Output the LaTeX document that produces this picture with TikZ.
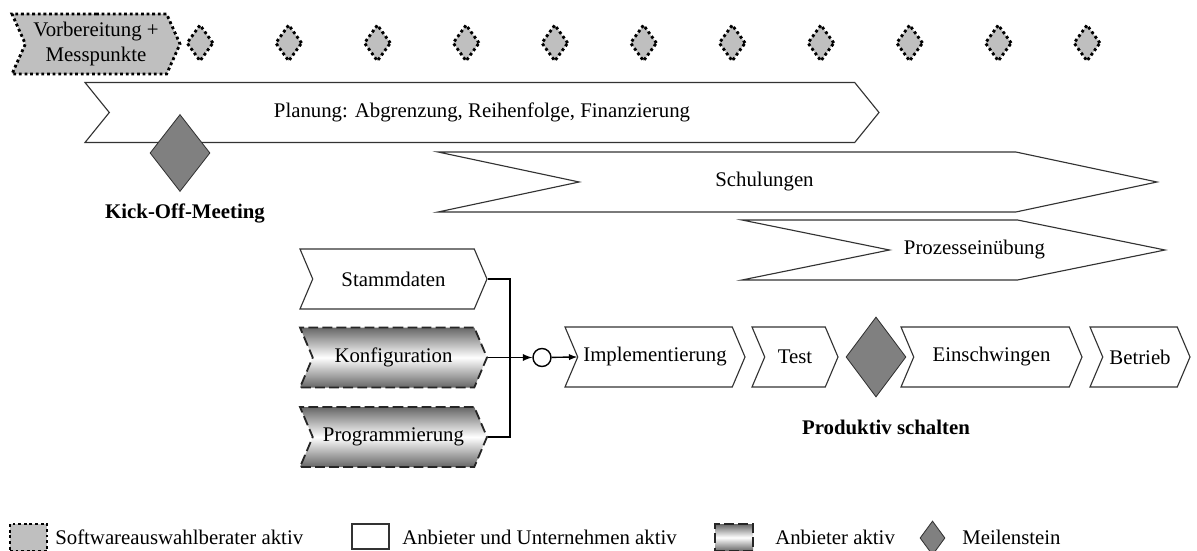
\documentclass[tikz,border=0pt]{standalone}
\usepackage{fontspec}
\setmainfont{Liberation Serif}
\usetikzlibrary{shapes.symbols,shapes.geometric}

\newcommand{\pxu}{0.025cm}

\begin{document}
\fontsize{14.8}{17.8}\selectfont
\begin{tikzpicture}[
  x=0.025cm, y=-0.025cm,
  pfeil/.style={
    signal,
    signal to=east,
    signal from=west,
    inner sep=0pt,
    minimum height=60*\pxu
  },
  berater/.style={
    fill=gray!50,
    draw=black,
    line width=2pt,
    dash pattern=on 2pt off 2pt
  },
  beide/.style={
    fill=white,
    draw=black!80,
    line width=0.8pt
  },
  anbieter/.style={
    top color=black!60,
    bottom color=black!60,
    middle color=white,
    draw=black!85,
    line width=1.3pt,
    dash pattern=on 7pt off 3pt
  },
  meilenstein/.style={
    diamond,
    fill=gray,
    draw=black!80,
    line width=0.6pt,
    inner sep=0pt
  },
  punkt/.style={
    meilenstein,
    berater,
    minimum width=27*\pxu,
    minimum height=37*\pxu
  }
]
\useasboundingbox (0,0) rectangle (1197,551);

% Vorbereitung und Messpunkte
\node[pfeil, berater, signal pointer angle=132, minimum width=168*\pxu, align=center] (vorb) at (96,44) {Vorbereitung +\\Messpunkte};
\foreach \i in {0,...,10}
  \node[punkt] (mp\i) at (200+88.7*\i,43) {};

% Planung
\node[pfeil, beide, signal pointer angle=102, minimum width=794*\pxu] (plan) at (482,112.5) {Planung: Abgrenzung, Reihenfolge, Finanzierung};
\node[meilenstein, minimum width=60*\pxu, minimum height=77*\pxu] (kickoff) at (180,153) {};
\node[font=\bfseries] (kickoff-text) at (185,213) {Kick-Off-Meeting};

% Schulungen
\node[pfeil, beide, signal pointer angle=24, minimum width=719*\pxu, label={[xshift=-33*\pxu]center:Schulungen}] (schul) at (797.5,182) {};
\node[pfeil, beide, signal pointer angle=23, minimum width=423*\pxu, label={[xshift=21*\pxu]center:Prozesseinübung}] (prozess) at (953.5,250) {};

% Umsetzung
\node[pfeil, beide, signal pointer angle=134, minimum width=187*\pxu] (stamm) at (393.5,279) {Stammdaten};
\node[pfeil, anbieter, signal pointer angle=134, minimum width=187*\pxu] (konf) at (393.5,357.5) {Konfiguration};
\node[pfeil, anbieter, signal pointer angle=134, minimum width=187*\pxu] (prog) at (393.5,437) {Programmierung};

\coordinate (knoten) at (510,357.5);
\node[circle, draw=black, line width=1pt, fill=white, minimum size=18*\pxu, inner sep=0pt] (und) at (542,357.5) {};
\draw[line width=0.8pt] (stamm.east) -| (knoten) |- (prog.east);
\draw[line width=1.3pt, -latex] (konf.east) -- (und);

\node[pfeil, beide, signal pointer angle=134, minimum width=180*\pxu] (impl) at (655,357) {Implementierung};
\node[pfeil, beide, signal pointer angle=134, minimum width=86*\pxu] (test) at (795,357) {Test};
\node[meilenstein, minimum width=60*\pxu, minimum height=80*\pxu] (produktiv) at (876,357) {};
\node[pfeil, beide, signal pointer angle=134, minimum width=181*\pxu] (einschw) at (991.5,357) {Einschwingen};
\node[pfeil, beide, signal pointer angle=134, minimum width=100*\pxu] (betrieb) at (1140,357) {Betrieb};
\node[font=\bfseries] (produktiv-text) at (886,427) {Produktiv schalten};
\draw[line width=1pt, -latex] (und) -- (impl.west);

% Legende
\node[berater, minimum width=37*\pxu, minimum height=27*\pxu, inner sep=0pt] (leg-berater) at (28.5,537.5) {};
\node[right, inner sep=0pt] (leg-berater-text) at (55,537) {Softwareauswahlberater aktiv};
\node[beide, minimum width=37*\pxu, minimum height=25*\pxu, inner sep=0pt] (leg-beide) at (370.5,536.5) {};
\node[right, inner sep=0pt] (leg-beide-text) at (402,537) {Anbieter und Unternehmen aktiv};
\node[anbieter, minimum width=38*\pxu, minimum height=27*\pxu, inner sep=0pt] (leg-anbieter) at (734,537.5) {};
\node[right, inner sep=0pt] (leg-anbieter-text) at (775,537) {Anbieter aktiv};
\node[meilenstein, minimum width=25*\pxu, minimum height=34*\pxu] (leg-meilenstein) at (932.5,538) {};
\node[right, inner sep=0pt] (leg-meilenstein-text) at (962,537) {Meilenstein};
\end{tikzpicture}
\end{document}
